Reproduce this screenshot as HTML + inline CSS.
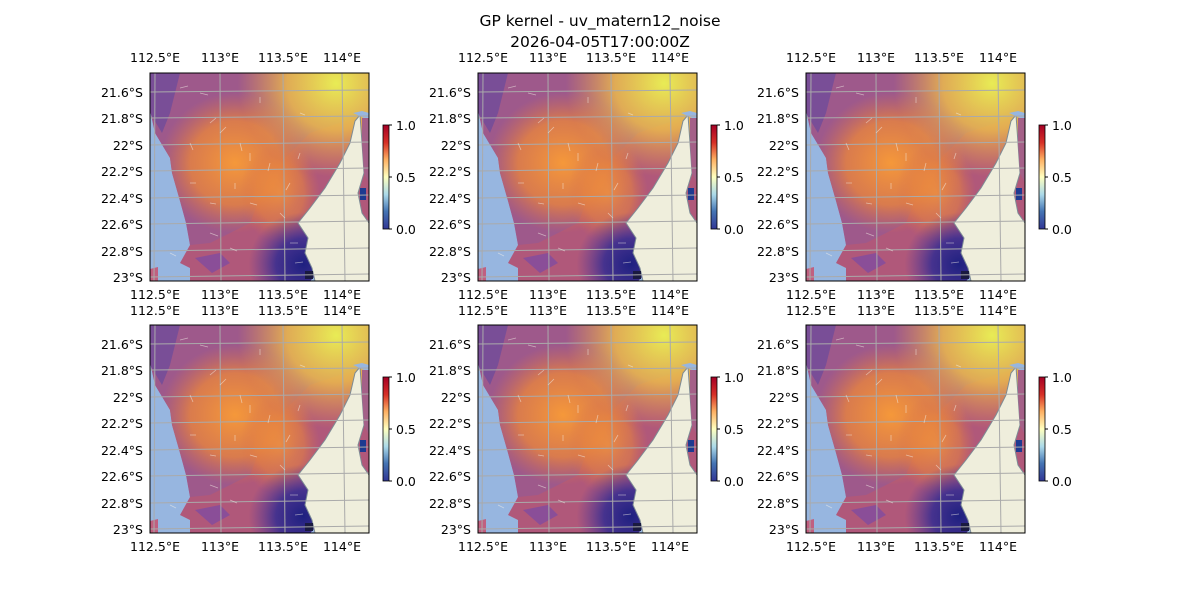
<!DOCTYPE html>
<html><head><meta charset="utf-8"><style>
body{margin:0;background:#fff;}
svg text{font-family:"DejaVu Sans","Liberation Sans",sans-serif;font-size:12.5px;fill:#000;}
</style></head><body>
<svg width="1200" height="600" viewBox="0 0 1200 600" xmlns="http://www.w3.org/2000/svg">
<defs>
<linearGradient id="cb" x1="0" y1="1" x2="0" y2="0">
<stop offset="0" stop-color="#313695"/><stop offset="0.17" stop-color="#4575b4"/><stop offset="0.33" stop-color="#abd9e9"/><stop offset="0.5" stop-color="#ffffbf"/><stop offset="0.67" stop-color="#fdae61"/><stop offset="0.83" stop-color="#d73027"/><stop offset="1" stop-color="#a50026"/>
</linearGradient>
<radialGradient id="gy" cx="0.85" cy="0.05" r="0.45"><stop offset="0" stop-color="#e8ec55"/><stop offset="0.5" stop-color="#f0c048" stop-opacity="0.8"/><stop offset="1" stop-color="#f0a040" stop-opacity="0"/></radialGradient>
<radialGradient id="go" cx="0.5" cy="0.5" r="0.5"><stop offset="0" stop-color="#f5983a"/><stop offset="0.6" stop-color="#e8843e" stop-opacity="0.8"/><stop offset="1" stop-color="#d8704a" stop-opacity="0"/></radialGradient>
<radialGradient id="gb" cx="0.7" cy="0.92" r="0.25"><stop offset="0" stop-color="#1e2080"/><stop offset="0.5" stop-color="#3a2e90" stop-opacity="0.9"/><stop offset="1" stop-color="#5a3a9a" stop-opacity="0"/></radialGradient>
<clipPath id="cp"><rect x="0" y="0" width="219" height="208"/></clipPath>
<clipPath id="fp"><polygon points="0,0 219,0 219,150 160,208 40,208 40,195 30,190 40,172 36,150 30,128 22,100 20,85 5,60 0,37"/></clipPath>
<g id="panel">
<g clip-path="url(#cp)">
<rect x="0" y="0" width="219" height="208" fill="#97b6e0"/>
<g clip-path="url(#fp)">
<rect x="0" y="0" width="219" height="208" fill="#b0587a"/>
<polygon points="0,0 219,0 219,40 160,60 120,100 100,150 60,170 40,172 36,150 30,128 22,100 20,85 5,60 0,37" fill="#9a5a90" opacity="0.8"/>
<ellipse cx="85" cy="90" rx="75" ry="70" fill="url(#go)"/>
<ellipse cx="130" cy="120" rx="40" ry="50" fill="url(#go)" opacity="0.7"/>
<rect x="0" y="0" width="219" height="208" fill="url(#gy)"/>
<polygon points="0,0 30,0 20,40 12,60 0,40" fill="#6a4a9c" opacity="0.7"/>
<rect x="0" y="0" width="219" height="208" fill="url(#gb)"/>
</g>
<polygon points="45,185 70,180 80,190 62,200" fill="#8a4e98"/>
<polygon points="0,196 8,194 8,208 0,208" fill="#c06080"/>
<polygon points="210,42 205,48 200,70 190,90 175,115 160,135 148,150 158,165 155,180 162,195 165,208 219,208 219,150 212,140 208,120 214,100 212,70" fill="#efeedc" stroke="#7d8b95" stroke-width="1"/>
<polygon points="212,45 219,45 219,110 214,100 212,70" fill="#a46088"/>
<polygon points="203,40 212,38 219,40 219,45 214,45" fill="#97b6e0"/>
<rect x="210" y="115" width="6" height="12" fill="#1e3a90"/>
<rect x="155" y="198" width="8" height="8" fill="#1a1a40"/>
<g stroke="#aaaaaa" stroke-width="1" fill="none">
<line x1="5" y1="0" x2="4" y2="208"/><line x1="70" y1="0" x2="71" y2="208"/><line x1="133" y1="0" x2="135" y2="208"/><line x1="192" y1="0" x2="195" y2="208"/>
<line x1="0" y1="19" x2="219" y2="17"/><line x1="0" y1="45" x2="219" y2="43"/><line x1="0" y1="72" x2="219" y2="69"/><line x1="0" y1="98" x2="219" y2="95"/><line x1="0" y1="125" x2="219" y2="122"/><line x1="0" y1="151" x2="219" y2="148"/><line x1="0" y1="178" x2="219" y2="175"/><line x1="0" y1="204" x2="219" y2="201"/>
</g>
<g stroke="#f4f0e8" stroke-width="0.8" opacity="0.55">
<path d="M30,15 l8,-2 M50,20 l8,2 M60,50 l6,-5 M70,60 l6,-6 M90,70 l2,8 M100,80 l0,8 M120,90 l-2,8 M140,110 l-4,7 M40,110 l6,0 M60,130 l6,1 M100,130 l7,2 M130,140 l5,5 M60,160 l8,3 M80,175 l7,3 M140,170 l8,0 M145,190 l8,-1 M110,30 l0,-6 M150,40 l5,2 M20,180 l6,3 M85,110 l0,6 M150,80 l-2,6 M40,70 l3,7"/>
</g>
</g>
<rect x="0" y="0" width="219" height="208" fill="none" stroke="#000" stroke-width="1"/>
</g>
<g id="cbar">
<rect x="0" y="0" width="6" height="104" fill="url(#cb)" stroke="#000" stroke-width="0.8"/>
<line x1="6" y1="0" x2="9" y2="0" stroke="#000"/><line x1="6" y1="52" x2="9" y2="52" stroke="#000"/><line x1="6" y1="104" x2="9" y2="104" stroke="#000"/>
</g>
</defs>
<text x="600" y="26" text-anchor="middle" style="font-size:15.5px">GP kernel - uv_matern12_noise</text>
<text x="600" y="47" text-anchor="middle" style="font-size:15.5px">2026-04-05T17:00:00Z</text>

<use href="#panel" x="150" y="73"/><use href="#panel" x="478" y="73"/><use href="#panel" x="806" y="73"/>
<use href="#panel" x="150" y="325"/><use href="#panel" x="478" y="325"/><use href="#panel" x="806" y="325"/>
<use href="#cbar" x="383" y="125"/><use href="#cbar" x="711" y="125"/><use href="#cbar" x="1039" y="125"/>
<use href="#cbar" x="383" y="377"/><use href="#cbar" x="711" y="377"/><use href="#cbar" x="1039" y="377"/>

<g>
<text x="396" y="130">1.0</text><text x="396" y="182">0.5</text><text x="396" y="234">0.0</text>
<text x="724" y="130">1.0</text><text x="724" y="182">0.5</text><text x="724" y="234">0.0</text>
<text x="1052" y="130">1.0</text><text x="1052" y="182">0.5</text><text x="1052" y="234">0.0</text>
<text x="396" y="382">1.0</text><text x="396" y="434">0.5</text><text x="396" y="486">0.0</text>
<text x="724" y="382">1.0</text><text x="724" y="434">0.5</text><text x="724" y="486">0.0</text>
<text x="1052" y="382">1.0</text><text x="1052" y="434">0.5</text><text x="1052" y="486">0.0</text>
</g>

<g text-anchor="middle">
<text x="155" y="62">112.5°E</text><text x="220" y="62">113°E</text><text x="283" y="62">113.5°E</text><text x="342" y="62">114°E</text>
<text x="155" y="299">112.5°E</text><text x="220" y="299">113°E</text><text x="283" y="299">113.5°E</text><text x="342" y="299">114°E</text>
<text x="483" y="62">112.5°E</text><text x="548" y="62">113°E</text><text x="611" y="62">113.5°E</text><text x="670" y="62">114°E</text>
<text x="483" y="299">112.5°E</text><text x="548" y="299">113°E</text><text x="611" y="299">113.5°E</text><text x="670" y="299">114°E</text>
<text x="811" y="62">112.5°E</text><text x="876" y="62">113°E</text><text x="939" y="62">113.5°E</text><text x="998" y="62">114°E</text>
<text x="811" y="299">112.5°E</text><text x="876" y="299">113°E</text><text x="939" y="299">113.5°E</text><text x="998" y="299">114°E</text>
<text x="155" y="315">112.5°E</text><text x="220" y="315">113°E</text><text x="283" y="315">113.5°E</text><text x="342" y="315">114°E</text>
<text x="155" y="551">112.5°E</text><text x="220" y="551">113°E</text><text x="283" y="551">113.5°E</text><text x="342" y="551">114°E</text>
<text x="483" y="315">112.5°E</text><text x="548" y="315">113°E</text><text x="611" y="315">113.5°E</text><text x="670" y="315">114°E</text>
<text x="483" y="551">112.5°E</text><text x="548" y="551">113°E</text><text x="611" y="551">113.5°E</text><text x="670" y="551">114°E</text>
<text x="811" y="315">112.5°E</text><text x="876" y="315">113°E</text><text x="939" y="315">113.5°E</text><text x="998" y="315">114°E</text>
<text x="811" y="551">112.5°E</text><text x="876" y="551">113°E</text><text x="939" y="551">113.5°E</text><text x="998" y="551">114°E</text>
</g>

<g text-anchor="end">
<text x="143" y="97">21.6°S</text><text x="143" y="123">21.8°S</text><text x="143" y="150">22°S</text><text x="143" y="176">22.2°S</text><text x="143" y="203">22.4°S</text><text x="143" y="229">22.6°S</text><text x="143" y="256">22.8°S</text><text x="143" y="282">23°S</text>
<text x="471" y="97">21.6°S</text><text x="471" y="123">21.8°S</text><text x="471" y="150">22°S</text><text x="471" y="176">22.2°S</text><text x="471" y="203">22.4°S</text><text x="471" y="229">22.6°S</text><text x="471" y="256">22.8°S</text><text x="471" y="282">23°S</text>
<text x="799" y="97">21.6°S</text><text x="799" y="123">21.8°S</text><text x="799" y="150">22°S</text><text x="799" y="176">22.2°S</text><text x="799" y="203">22.4°S</text><text x="799" y="229">22.6°S</text><text x="799" y="256">22.8°S</text><text x="799" y="282">23°S</text>
<text x="143" y="349">21.6°S</text><text x="143" y="375">21.8°S</text><text x="143" y="402">22°S</text><text x="143" y="428">22.2°S</text><text x="143" y="455">22.4°S</text><text x="143" y="481">22.6°S</text><text x="143" y="508">22.8°S</text><text x="143" y="534">23°S</text>
<text x="471" y="349">21.6°S</text><text x="471" y="375">21.8°S</text><text x="471" y="402">22°S</text><text x="471" y="428">22.2°S</text><text x="471" y="455">22.4°S</text><text x="471" y="481">22.6°S</text><text x="471" y="508">22.8°S</text><text x="471" y="534">23°S</text>
<text x="799" y="349">21.6°S</text><text x="799" y="375">21.8°S</text><text x="799" y="402">22°S</text><text x="799" y="428">22.2°S</text><text x="799" y="455">22.4°S</text><text x="799" y="481">22.6°S</text><text x="799" y="508">22.8°S</text><text x="799" y="534">23°S</text>
</g>
</svg>
</body></html>
